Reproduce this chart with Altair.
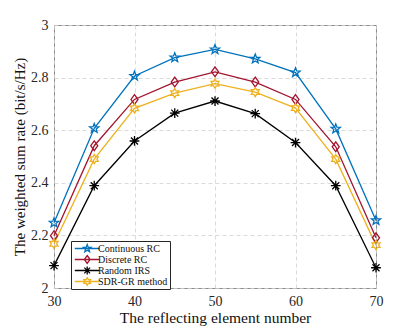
import math
import altair as alt
import pandas as pd

x_vals = [30, 35, 40, 45, 50, 55, 60, 65, 70]
continuous_rc = [2.248, 2.607, 2.806, 2.876, 2.907, 2.871, 2.819, 2.605, 2.257]
discrete_rc = [2.199, 2.541, 2.717, 2.783, 2.822, 2.783, 2.717, 2.537, 2.191]
random_irs = [2.085, 2.389, 2.559, 2.665, 2.711, 2.663, 2.553, 2.389, 2.077]
sdr_gr = [2.168, 2.490, 2.683, 2.741, 2.777, 2.745, 2.684, 2.490, 2.163]

series_names = ["Continuous RC", "Discrete RC", "Random IRS", "SDR-GR method"]
series_values = [continuous_rc, discrete_rc, random_irs, sdr_gr]
colors = ["#0072BD", "#A2142F", "#000000", "#EDB120"]

x_ticks = [30, 40, 50, 60, 70]
y_ticks = [2, 2.2, 2.4, 2.6, 2.8, 3]

rows = []
for name, vals in zip(series_names, series_values):
    for xv, yv in zip(x_vals, vals):
        rows.append({"N": xv, "rate": yv, "series": name})
df = pd.DataFrame(rows)


def star_pts(n, r_out, r_in, dx=0.0):
    pts = []
    for k in range(2 * n):
        a = -math.pi / 2 + k * math.pi / n
        r = r_out if k % 2 == 0 else r_in
        pts.append((dx + r * math.cos(a), r * math.sin(a)))
    return "M" + "L".join(f"{px:.3f},{py:.3f}" for px, py in pts) + "Z"


def diamond(dx=0.0):
    return f"M{dx:.3f},-1L{dx + 0.72:.3f},0L{dx:.3f},1L{dx - 0.72:.3f},0Z"


def asterisk(dx=0.0):
    return (f"M{dx - 1:.3f},0L{dx + 1:.3f},0M{dx:.3f},-1L{dx:.3f},1"
            f"M{dx - 0.72:.3f},-0.72L{dx + 0.72:.3f},0.72M{dx - 0.72:.3f},0.72L{dx + 0.72:.3f},-0.72")


def marker_set(dx=0.0):
    return [star_pts(5, 1.0, 0.42, dx), diamond(dx), asterisk(dx), star_pts(6, 0.95, 0.55, dx)]


markers = marker_set(0.0)
shift = 2.3
legend_paths = [f"M{-0.8:.3f},0L{2 * shift + 0.8:.3f},0" + m for m in marker_set(shift)]

color_scale = alt.Scale(domain=series_names, range=colors)

xenc = alt.X("N:Q", scale=alt.Scale(domain=[30, 70], nice=False),
             axis=alt.Axis(values=x_ticks, title="The reflecting element number"))
yenc = alt.Y("rate:Q", scale=alt.Scale(domain=[2, 3], nice=False, zero=False),
             axis=alt.Axis(values=y_ticks, format="~g", title="The weighted sum rate (bit/s/Hz)"))

base = alt.Chart(df)

lines = base.mark_line(strokeWidth=1.3).encode(
    x=xenc, y=yenc,
    color=alt.Color("series:N", scale=color_scale, legend=None),
    detail="series:N",
)

points = base.mark_point(filled=False, strokeWidth=1.3, size=95, opacity=1).encode(
    x=xenc, y=yenc,
    color=alt.Color("series:N", scale=color_scale, legend=None),
    shape=alt.Shape("series:N", scale=alt.Scale(domain=series_names, range=markers), legend=None),
)

legend_props = dict(title=None, orient="none", legendX=17, legendY=216,
                    symbolSize=64, symbolStrokeWidth=1.3, symbolOpacity=1,
                    labelOffset=15, rowPadding=0, clipHeight=11,
                    labelFontSize=10, labelFont="Liberation Serif", labelColor="#111111",
                    padding=2, strokeColor="#262626", fillColor="white")

legend_layer = base.mark_point(filled=False, opacity=0).encode(
    x=xenc, y=yenc,
    color=alt.Color("series:N", scale=color_scale, legend=alt.Legend(**legend_props)),
    shape=alt.Shape("series:N", scale=alt.Scale(domain=series_names, range=legend_paths),
                    legend=alt.Legend(**legend_props)),
)

chart = alt.layer(lines, points, legend_layer).resolve_scale(
    shape="independent", color="independent"
).properties(
    width=322, height=263,
    autosize=alt.AutoSizeParams(type="none"),
    padding={"left": 46, "top": 17, "right": 20, "bottom": 38},
).configure(
    font="Liberation Serif",
).configure_view(
    stroke="#8a8a8a", strokeWidth=1,
).configure_axis(
    labelFont="Liberation Serif", titleFont="Liberation Serif",
    labelFontSize=14, titleFontSize=15, labelColor="#262626", titleColor="#111111",
    titleFontWeight="normal", labelFlush=False, labelOverlap=False,
    grid=True, gridColor="#d0d0d0", gridDash=[4, 3], gridWidth=0.8,
    domain=False, ticks=False, labelPadding=6,
).configure_axisX(
    titlePadding=2, titleFontSize=15.5,
).configure_axisY(
    titlePadding=3,
).configure_legend(
    labelFont="Liberation Serif", labelColor="#111111",
)

chart.save("out.html", embed_options={"renderer": "svg", "actions": False})
